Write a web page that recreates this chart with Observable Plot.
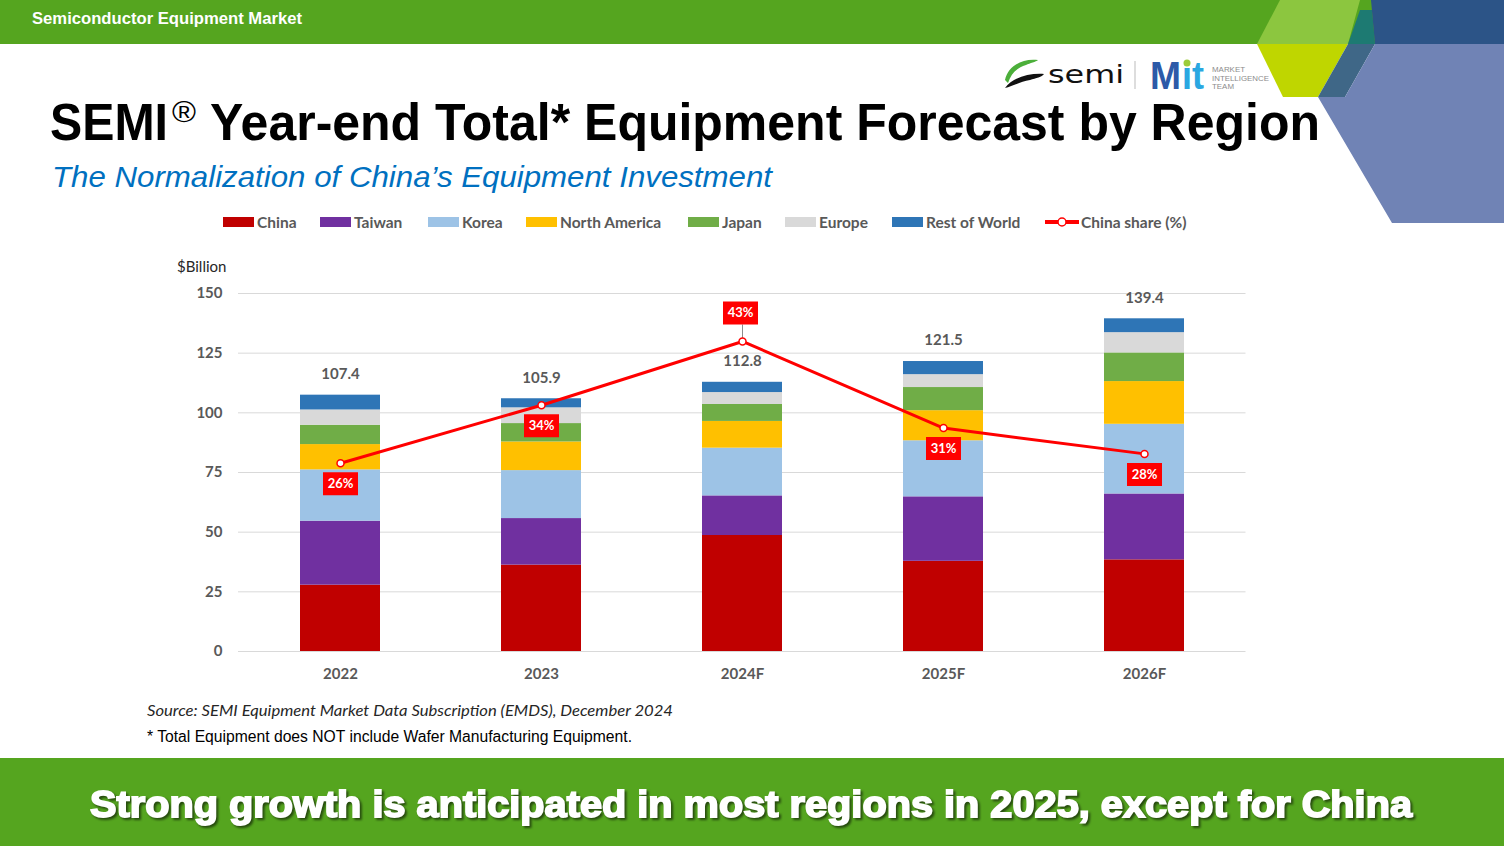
<!DOCTYPE html>
<html>
<head>
<meta charset="utf-8">
<script src="https://cdn.jsdelivr.net/npm/d3@7"></script>
<script src="https://cdn.jsdelivr.net/npm/@observablehq/plot@0.6"></script>
<style>
  html, body { margin: 0; padding: 0; background: #fff; }
  #page { position: relative; width: 1504px; height: 846px; overflow: hidden; background: #fff; }
  #deco { position: absolute; left: 0; top: 0; }
  #chart { position: absolute; left: 0; top: 250px; }
  #legend { position: absolute; left: 0; top: 212px; width: 1504px; height: 20px;
            font-family: Lato, "Open Sans", sans-serif; font-weight: 700; font-size: 15.5px; color: #595959; white-space: nowrap; }
  .item { position: absolute; top: 0; height: 20px; display: flex; align-items: center; gap: 3px; }
  .sw { width: 31px; height: 10px; display: inline-block; }
  [aria-label="share-box"] { filter: drop-shadow(2px 2px 1.5px rgba(0,0,0,0.45)); }
  .banner { filter: drop-shadow(2px 2px 1px rgba(0,0,0,0.55)); }
</style>
</head>
<body>
<div id="page">
  <svg id="deco" width="1504" height="846">
    <!-- top band and decoration -->
    <rect x="0" y="0" width="1504" height="44" fill="#55a51f"/>
    <polygon points="1280,0 1360,0 1348,44 1257,44" fill="#8cc63f"/>
    <polygon points="1360,10 1372,10 1375,44 1348,44" fill="#1d7a72"/>
    <polygon points="1371,0 1504,0 1504,44 1375,44" fill="#2c5487"/>
    <polygon points="1257,44 1348,44 1318,97 1283,97" fill="#bfd600"/>
    <polygon points="1348,44 1375,44 1345,97 1318,97" fill="#3f6787"/>
    <polygon points="1375,44 1504,44 1504,223 1392,223 1318,97 1345,97" fill="#7083b5"/>
    <text x="32" y="24" fill="#fff" font-family="Liberation Sans, Arial, sans-serif" font-weight="bold" font-size="16" textLength="270" lengthAdjust="spacingAndGlyphs">Semiconductor Equipment Market</text>

    <!-- logos -->
    <path d="M1005,80 C1008,66 1022,58 1038,60 C1036,62 1030,63 1026,65 C1016,68 1011,74 1008,83 Z" fill="#4caf3a"/>
    <path d="M1005,88 C1012,78 1028,73 1044,74 C1042,77 1036,78 1030,80 C1020,82 1012,86 1005,88 Z" fill="#111"/>
    <text x="1048" y="83" font-family="DejaVu Sans, sans-serif" font-size="24" fill="#111" textLength="76" lengthAdjust="spacingAndGlyphs">semi</text>
    <line x1="1135" y1="61" x2="1135" y2="89" stroke="#bbbbbb" stroke-width="1"/>
    <text x="1150" y="89" font-family="Liberation Sans, Arial, sans-serif" font-weight="bold" font-size="38" fill="#2d5aa8" textLength="31" lengthAdjust="spacingAndGlyphs">M</text>
    <text x="1182" y="89" font-family="Liberation Sans, Arial, sans-serif" font-weight="bold" font-size="38" fill="#2aa7e1" textLength="22" lengthAdjust="spacingAndGlyphs">it</text>
    <circle cx="1187" cy="63" r="3.5" fill="#9ccc3a"/>
    <g font-family="Liberation Sans, Arial, sans-serif" font-size="7" fill="#8c8c8c">
      <text x="1212" y="72" textLength="33" lengthAdjust="spacingAndGlyphs">MARKET</text>
      <text x="1212" y="80.5" textLength="57" lengthAdjust="spacingAndGlyphs">INTELLIGENCE</text>
      <text x="1212" y="89" textLength="22" lengthAdjust="spacingAndGlyphs">TEAM</text>
    </g>

    <!-- title & subtitle -->
    <g fill="#000" font-family="Liberation Sans, Arial, sans-serif" font-weight="bold">
      <text transform="translate(50,140) scale(1,1.07)" x="0" y="0" font-size="48.5" textLength="118" lengthAdjust="spacingAndGlyphs">SEMI</text>
      <text x="172" y="122" font-size="30" font-weight="normal" textLength="24" lengthAdjust="spacingAndGlyphs">®</text>
      <text x="210" y="140" font-size="52" textLength="1110" lengthAdjust="spacingAndGlyphs">Year-end Total* Equipment Forecast by Region</text>
    </g>
    <text x="52" y="187" fill="#0070c0" font-family="Liberation Sans, Arial, sans-serif" font-style="italic" font-size="30" textLength="720" lengthAdjust="spacingAndGlyphs">The Normalization of China’s Equipment Investment</text>

    <text x="177" y="272" fill="#262626" font-family="Lato, sans-serif" font-size="15">$Billion</text>

    <!-- notes -->
    <text x="147" y="716" fill="#262626" font-family="Lato, sans-serif" font-style="italic" font-size="15.5" textLength="526" lengthAdjust="spacingAndGlyphs">Source: SEMI Equipment Market Data Subscription (EMDS), December 2024</text>
    <text x="147" y="742" fill="#000" font-family="Liberation Sans Narrow, Liberation Sans, Arial, sans-serif" font-size="16" textLength="485" lengthAdjust="spacingAndGlyphs">* Total Equipment does NOT include Wafer Manufacturing Equipment.</text>

    <!-- bottom banner -->
    <rect x="0" y="758" width="1504" height="88" fill="#55a51f"/>
    <text class="banner" x="90" y="817" fill="#fff" stroke="#fff" stroke-width="1.8" font-family="Liberation Sans, Arial, sans-serif" font-weight="bold" font-size="37" textLength="1322" lengthAdjust="spacingAndGlyphs">Strong growth is anticipated in most regions in 2025, except for China</text>
  </svg>
  <div id="legend"></div>
  <div id="chart"></div>
</div>
<script>
// ---- data ----
const years = ["2022", "2023", "2024F", "2025F", "2026F"];
const regions = ["China", "Taiwan", "Korea", "North America", "Japan", "Europe", "Rest of World"];
const regionColors = ["#c00000", "#7030a0", "#9dc3e6", "#ffc000", "#70ad47", "#d9d9d9", "#2e75b6"];
const china        = [27.8, 36.2, 48.6, 37.8, 38.4];
const taiwan       = [26.8, 19.5, 16.6, 27.0, 27.6];
const korea        = [21.5, 20.1, 20.0, 23.5, 29.2];
const northAmerica = [10.6, 12.0, 11.2, 12.6, 17.9];
const japan        = [8.1, 7.7, 7.1, 9.7, 12.0];
const europe       = [6.4, 6.6, 5.0, 5.4, 8.5];
const restOfWorld  = [6.2, 3.8, 4.3, 5.5, 5.8];
const totals       = [107.4, 105.9, 112.8, 121.5, 139.4];
const chinaShare   = [26.3, 34.4, 43.3, 31.2, 27.6];   // %
const shareLabelSide = ["below", "below", "above", "below", "below"];
const yTicks = [0, 25, 50, 75, 100, 125, 150];
const shareLegend = "China share (%)";
const yMax = 150;          // primary axis max ($B)
const shareAxisMax = 50;   // hidden secondary axis max (%)

// legend layout (pixel offsets of each legend entry)
const legendLeft = [223, 320, 428, 526, 688, 785, 892, 1045];

// ---- tables ----
const regionSeries = [china, taiwan, korea, northAmerica, japan, europe, restOfWorld];
const rows = years.flatMap((year, i) => regions.map((region, j) => ({year, region, value: regionSeries[j][i]})));
const totalRows = years.map((year, i) => ({year, total: totals[i]}));
const shareRows = years.map((year, i) => ({year, share: chinaShare[i], side: shareLabelSide[i]}));
const shareY = d => d.share * yMax / shareAxisMax;
const below = shareRows.filter(d => d.side === "below");
const above = shareRows.filter(d => d.side === "above");

const boxSymbol = {draw(ctx) { ctx.rect(-17.5, -11.5, 35, 23); }};
const leaderSymbol = {draw(ctx) { ctx.moveTo(0, 0); ctx.lineTo(0, -17); }};

// ---- legend ----
const legend = document.getElementById("legend");
regions.forEach((r, i) => {
  const it = document.createElement("div");
  it.className = "item";
  it.style.left = legendLeft[i] + "px";
  it.innerHTML = `<span class="sw" style="background:${regionColors[i]}"></span><span>${r}</span>`;
  legend.appendChild(it);
});
const shareItem = document.createElement("div");
shareItem.className = "item";
shareItem.style.left = legendLeft[regions.length] + "px";
shareItem.style.gap = "2px";
shareItem.innerHTML = `<svg width="34" height="12"><line x1="0" y1="6" x2="34" y2="6" stroke="#ff0000" stroke-width="4"/><circle cx="17" cy="6" r="4" fill="#fff" stroke="#ff0000" stroke-width="1.5"/></svg><span>${shareLegend}</span>`;
legend.appendChild(shareItem);

// ---- chart ----
const chart = Plot.plot({
  width: 1504,
  height: 440,
  marginTop: 43,
  marginBottom: 39,
  marginLeft: 238,
  marginRight: 258.5,
  style: {fontFamily: "Lato, 'Open Sans', sans-serif", fontSize: "15px", fontWeight: "bold", color: "#595959", background: "transparent", overflow: "visible"},
  x: {domain: years, paddingInner: 0.6, paddingOuter: 0.3, label: null},
  y: {domain: [0, yMax], label: null},
  color: {domain: regions, range: regionColors},
  marks: [
    Plot.gridY(yTicks, {stroke: "#d9d9d9", strokeOpacity: 1, strokeWidth: 1}),
    Plot.barY(rows, {x: "year", y: "value", fill: "region"}),
    Plot.axisY(yTicks, {tickSize: 0, tickPadding: 16, label: null}),
    Plot.axisX({tickSize: 0, tickPadding: 17, label: null}),
    Plot.text(totalRows, {x: "year", y: "total", text: d => d.total.toFixed(1), dy: -21, fill: "#595959"}),
    Plot.line(shareRows, {x: "year", y: shareY, stroke: "#ff0000", strokeWidth: 3}),
    Plot.dot(above, {x: "year", y: shareY, symbol: leaderSymbol, stroke: "#8c8c8c", strokeWidth: 1, fill: "none"}),
    Plot.dot(shareRows, {x: "year", y: shareY, r: 3.5, fill: "#fff", stroke: "#ff0000", strokeWidth: 1.5}),
    Plot.dot(below, {x: "year", y: shareY, symbol: boxSymbol, fill: "#ff0000", stroke: "none", dy: 20.5, ariaLabel: "share-box"}),
    Plot.dot(above, {x: "year", y: shareY, symbol: boxSymbol, fill: "#ff0000", stroke: "none", dy: -28.5, dx: -2, ariaLabel: "share-box"}),
    Plot.text(below, {x: "year", y: shareY, text: d => Math.round(d.share) + "%", dy: 20.5, fill: "#fff", fontSize: 13}),
    Plot.text(above, {x: "year", y: shareY, text: d => Math.round(d.share) + "%", dy: -28.5, dx: -2, fill: "#fff", fontSize: 13})
  ]
});
document.getElementById("chart").appendChild(chart);
</script>
</body>
</html>
